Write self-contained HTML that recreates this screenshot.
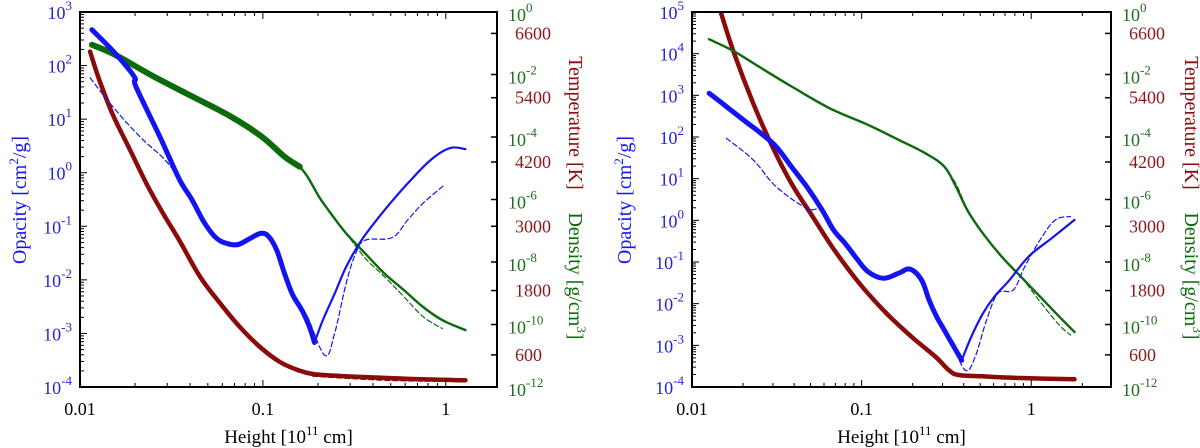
<!DOCTYPE html>
<html><head><meta charset="utf-8">
<style>
html,body{margin:0;padding:0;background:#fff;}
svg{display:block;font-family:"Liberation Serif",serif;}
</style></head>
<body>
<svg id="c" width="1200" height="448" viewBox="0 0 1200 448" xmlns="http://www.w3.org/2000/svg"></svg>
<script>
// ---- Data (log10 height in 1e11 cm) ----
// Left panel
const L_opX = [-1.935,-1.808,-1.703,-1.693,-1.563,-1.514,-1.451,-1.387,-1.324,-1.261,-1.198,-1.135,-1.072,-1.008,-0.966,-0.924,-0.882,-0.840,-0.798,-0.777,-0.745,-0.718,-0.672,-0.608,-0.545,-0.461,-0.335,-0.208,-0.082,0.023,0.107];
const L_opY = [2.67,2.23,1.79,1.60,0.67,0.30,-0.16,-0.51,-0.91,-1.20,-1.32,-1.34,-1.23,-1.13,-1.20,-1.45,-1.88,-2.26,-2.50,-2.63,-2.88,-3.17,-2.75,-2.26,-1.76,-1.26,-0.70,-0.20,0.24,0.46,0.44];
const L_opThick = 21;
const L_opDX = [-1.945,-1.820,-1.672,-1.535,-1.454,-1.387,-1.324,-1.261,-1.198,-1.135,-1.072,-1.008,-0.966,-0.924,-0.882,-0.840,-0.798,-0.756,-0.661,-0.608,-0.545,-0.493,-0.440,-0.293,-0.208,-0.124,-0.008];
const L_opDY = [1.77,1.23,0.67,0.24,-0.14,-0.51,-0.91,-1.20,-1.32,-1.34,-1.23,-1.13,-1.20,-1.45,-1.88,-2.26,-2.50,-2.69,-3.41,-3.00,-2.07,-1.51,-1.26,-1.21,-0.88,-0.57,-0.23];
const L_rhoX = [-1.935,-1.808,-1.598,-1.387,-1.177,-1.008,-0.882,-0.798,-0.756,-0.693,-0.629,-0.545,-0.440,-0.335,-0.229,-0.124,-0.019,0.107];
const L_rhoY = [-1.05,-1.37,-2.06,-2.70,-3.34,-3.98,-4.63,-4.95,-5.27,-5.91,-6.44,-7.08,-7.73,-8.37,-8.90,-9.44,-9.86,-10.18];
const L_rhoThick = 7;
const L_rhoDX = [-0.798,-0.756,-0.693,-0.629,-0.545,-0.440,-0.335,-0.229,-0.124,-0.019];
const L_rhoDY = [-4.95,-5.27,-5.91,-6.44,-7.08,-7.88,-8.47,-9.11,-9.75,-10.13];
const L_tX = [-1.945,-1.891,-1.820,-1.727,-1.634,-1.546,-1.454,-1.344,-1.235,-1.126,-1.016,-0.907,-0.809,-0.727,-0.579,-0.335,-0.124,0.107];
const L_tY = [6260,5700,5080,4430,3780,3240,2720,2060,1568,1120,747,467,317,243,205,170,143,125];
const L_tDX = [-0.727,-0.335,-0.019];
const L_tDY = [200,125,106];
// Right panel
const R_opX = [-1.899,-1.797,-1.684,-1.594,-1.504,-1.414,-1.324,-1.233,-1.166,-1.098,-1.030,-0.963,-0.873,-0.782,-0.715,-0.647,-0.602,-0.557,-0.512,-0.467,-0.410,-0.354,-0.286,-0.219,-0.128,-0.016,0.120,0.255];
const R_opY = [3.05,2.73,2.37,2.09,1.77,1.29,0.81,0.25,-0.23,-0.55,-0.91,-1.23,-1.39,-1.27,-1.17,-1.43,-1.92,-2.32,-2.64,-2.96,-3.36,-2.80,-2.24,-1.84,-1.43,-0.87,-0.43,0.01];
const R_opThick = 20;
const R_opDX = [-1.797,-1.639,-1.504,-1.324,-1.233,-1.166,-1.098,-1.030,-0.963,-0.873,-0.782,-0.715,-0.647,-0.602,-0.557,-0.512,-0.467,-0.388,-0.331,-0.264,-0.196,-0.106,-0.038,0.052,0.142,0.232];
const R_opDY = [1.97,1.45,0.81,0.29,0.25,-0.23,-0.55,-0.91,-1.23,-1.39,-1.27,-1.17,-1.43,-1.92,-2.32,-2.64,-2.96,-3.60,-3.28,-2.40,-1.75,-1.67,-1.11,-0.47,0.01,0.09];
const R_rhoX = [-1.899,-1.752,-1.594,-1.414,-1.188,-0.963,-0.782,-0.625,-0.512,-0.444,-0.377,-0.286,-0.174,-0.061,0.052,0.165,0.255];
const R_rhoY = [-0.87,-1.26,-1.79,-2.38,-3.08,-3.61,-4.09,-4.52,-4.95,-5.59,-6.34,-7.08,-7.83,-8.47,-9.11,-9.75,-10.24];
const R_rhoDX = [-0.512,-0.444,-0.377,-0.286,-0.174,-0.061,0.052,0.165,0.232];
const R_rhoDY = [-4.95,-5.50,-6.30,-7.08,-7.83,-8.47,-9.27,-10.02,-10.34];
const R_tX = [-1.870,-1.831,-1.752,-1.639,-1.526,-1.414,-1.301,-1.161,-1.015,-0.856,-0.704,-0.563,-0.487,-0.428,-0.286,-0.061,0.255];
const R_tY = [7400,7000,6230,5296,4486,3801,3240,2557,1942,1382,934,560,317,224,199,168,143];
// ticks
const xTickLabels = ["0.01","0.1","1"];
const tempTicks = [600,1800,3000,4200,5400,6600];
const rhoTicks = [0,-2,-4,-6,-8,-10,-12];

const svg = document.getElementById('c');
const NS = 'http://www.w3.org/2000/svg';
function mk(tag, attrs, parent){const e=document.createElementNS(NS,tag);for(const k in attrs)e.setAttribute(k,attrs[k]);(parent||svg).appendChild(e);return e;}
const BLUE='#1414f0', GREEN='#0b6b0b', RED='#8b0a0a', LBLUE='#2424d8', LGREEN='#1e6e1e', LRED='#8a1818';

function smoothPath(pts){
  if(pts.length<2) return '';
  let d='M'+pts[0][0].toFixed(1)+','+pts[0][1].toFixed(1);
  for(let i=0;i<pts.length-1;i++){
    const p0=pts[Math.max(0,i-1)],p1=pts[i],p2=pts[i+1],p3=pts[Math.min(pts.length-1,i+2)];
    const t=0.18;
    const c1=[p1[0]+(p2[0]-p0[0])*t,p1[1]+(p2[1]-p0[1])*t];
    const c2=[p2[0]-(p3[0]-p1[0])*t,p2[1]-(p3[1]-p1[1])*t];
    d+='C'+c1[0].toFixed(1)+','+c1[1].toFixed(1)+' '+c2[0].toFixed(1)+','+c2[1].toFixed(1)+' '+p2[0].toFixed(1)+','+p2[1].toFixed(1);
  }
  return d;
}

function panel(p){
  const g = mk('g',{});
  
  
  const {x0,x1,y0,y1,xmin,xmax,ymin,ymax} = p;
  const sx = v => x0 + (v - xmin)/(xmax - xmin)*(x1 - x0);
  const sy = v => y1 - (v - ymin)/(ymax - ymin)*(y1 - y0);
  const sr = v => y1 - (v - (-12))/12*(y1 - y0);
  const st = v => y1 - v/7000*(y1 - y0);
  const cid = 'clip'+p.name;
  const cp = mk('clipPath',{id:cid},g); mk('rect',{x:x0,y:y0,width:x1-x0,height:y1-y0},cp);
  const plot = mk('g',{'clip-path':'url(#'+cid+')'},g);
  function line(xs, ys, fy, color, w, name, from, to, dash){
    const pts=[];
    for(let i=from;i<to;i++) pts.push([sx(xs[i]),fy(ys[i])]);
    const e = mk('path',{d:smoothPath(pts),fill:'none',stroke:color,'stroke-width':w,'stroke-linejoin':'round','stroke-linecap':'round'},plot);
    if(dash) e.setAttribute('stroke-dasharray',dash);
    
    
  }
  line(p.tX,p.tY,st,RED,p.tW,'temperature-line',0,p.tX.length);
  if(p.tDX) line(p.tDX,p.tDY,st,RED,1.2,'temperature-dashed-line',0,p.tDX.length,'5,3');
  line(p.rhoDX,p.rhoDY,sr,GREEN,1.2,'density-dashed-line',0,p.rhoDX.length,'5,3');
  line(p.rhoX,p.rhoY,sr,GREEN,p.rhoW1,'density-line-thick',0,p.rhoThick+1);
  line(p.rhoX,p.rhoY,sr,GREEN,2.4,'density-line-thin',p.rhoThick,p.rhoX.length);
  line(p.opDX,p.opDY,sy,BLUE,1.2,'opacity-dashed-line',0,p.opDX.length,'5,3');
  line(p.opX,p.opY,sy,BLUE,5,'opacity-line-thick',0,p.opThick+1);
  line(p.opX,p.opY,sy,BLUE,2.2,'opacity-line-thin',p.opThick,p.opX.length);
  // frame
  const fr = mk('rect',{x:x0,y:y0,width:x1-x0,height:y1-y0,fill:'none',stroke:'#000','stroke-width':2},g);
   
  // x ticks
  for(let dec=-2; dec<=0.5; dec++){
    for(let m=1;m<10;m++){
      const v = dec+Math.log10(m); if(v>xmax) break;
      const X=sx(v), L=(m===1)?7:4;
      mk('line',{x1:X,y1:y1,x2:X,y2:y1-L,stroke:'#000','stroke-width':1},g);
      mk('line',{x1:X,y1:y0,x2:X,y2:y0+L,stroke:'#000','stroke-width':1},g);
    }
  }
  xTickLabels.forEach((t,i)=>{const e=mk('text',{x:sx(-2+i),y:y1+28,'text-anchor':'middle','font-size':18,fill:'#000'},g);e.textContent=t;
     });
  // left y ticks
  for(let dec=ymin; dec<=ymax; dec++){
    for(let m=1;m<10;m++){
      const v=dec+Math.log10(m); if(v>ymax) break;
      const Y=sy(v), L=(m===1)?7:4;
      mk('line',{x1:x0,y1:Y,x2:x0+L,y2:Y,stroke:'#000','stroke-width':1},g);
    }
    const t=mk('text',{x:x0-8,y:sy(dec)+7,'text-anchor':'end','font-size':18,fill:LBLUE},g);
    t.innerHTML='10<tspan dy="-9" font-size="13">'+dec+'</tspan>';
     
  }
  // right ticks
  rhoTicks.forEach(v=>{const Y=sr(v);mk('line',{x1:x1,y1:Y,x2:x1-6,y2:Y,stroke:'#000','stroke-width':1.5},g);
    const t=mk('text',{x:x1+11,y:Y+9,'font-size':18,fill:LGREEN},g);
    t.innerHTML='10<tspan dy="-9" font-size="13">'+v+'</tspan>';
     });
  tempTicks.forEach(v=>{const Y=st(v);mk('line',{x1:x1,y1:Y,x2:x1-6,y2:Y,stroke:'#000','stroke-width':1.5},g);
    const t=mk('text',{x:x1+18,y:Y+6,'font-size':18,fill:LRED},g);t.textContent=v;
     });
  // titles
  const xt=mk('text',{x:(x0+x1)/2,y:443,'text-anchor':'middle','font-size':19,fill:'#000'},g);
  xt.innerHTML='Height [10<tspan dy="-8" font-size="13">11</tspan><tspan dy="8"> cm]</tspan>';
   
  const yt=mk('text',{x:0,y:0,transform:'translate('+(p.ltX)+',200) rotate(-90)','text-anchor':'middle','font-size':20,fill:BLUE},g);
  yt.innerHTML='Opacity [cm<tspan dy="-8" font-size="13">2</tspan><tspan dy="8">/g]</tspan>';
   
  const tt=mk('text',{x:0,y:0,transform:'translate('+(p.rtX)+',123) rotate(90)','text-anchor':'middle','font-size':20,fill:RED},g);
  tt.textContent='Temperature [K]';
   
  const dt=mk('text',{x:0,y:0,transform:'translate('+(p.rtX)+',276) rotate(90)','text-anchor':'middle','font-size':20,fill:GREEN},g);
  dt.innerHTML='Density [g/cm<tspan dy="-8" font-size="13">3</tspan><tspan dy="8">]</tspan>';
   
}

panel({name:'left-panel',x0:80,x1:497,y0:12,y1:387,xmin:-2,xmax:0.28,ymin:-4,ymax:3,ltX:26,rtX:569,
  opX:L_opX,opY:L_opY,opThick:L_opThick,opDX:L_opDX,opDY:L_opDY,
  rhoX:L_rhoX,rhoY:L_rhoY,rhoThick:L_rhoThick,rhoW1:6,rhoDX:L_rhoDX,rhoDY:L_rhoDY,
  tX:L_tX,tY:L_tY,tW:4.5,tDX:L_tDX,tDY:L_tDY});
panel({name:'right-panel',x0:692,x1:1111,y0:12,y1:387,xmin:-2,xmax:0.47,ymin:-4,ymax:5,ltX:631,rtX:1185,
  opX:R_opX,opY:R_opY,opThick:R_opThick,opDX:R_opDX,opDY:R_opDY,
  rhoX:R_rhoX,rhoY:R_rhoY,rhoThick:0,rhoW1:2.5,rhoDX:R_rhoDX,rhoDY:R_rhoDY,
  tX:R_tX,tY:R_tY,tW:4.5});
</script>
</body></html>
